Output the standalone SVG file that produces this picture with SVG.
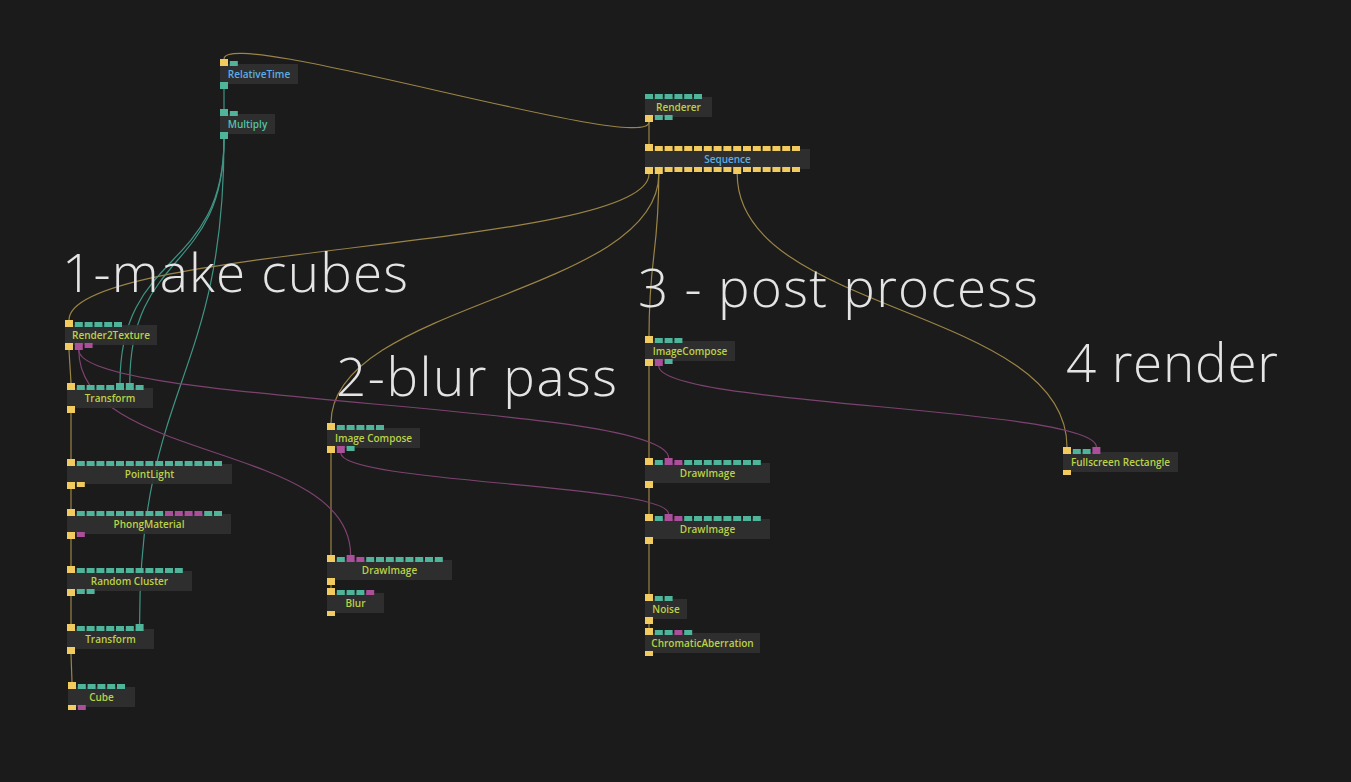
<svg xmlns="http://www.w3.org/2000/svg" width="1351" height="782" viewBox="0 0 1351 782">
<style>
.bg{fill:#1b1b1b}
.nb{fill:#303030;fill-opacity:0.92}
.py{fill:#f2cb60}
.pt{fill:#50b49b}
.pp{fill:#ab4f9a}
.lb{font-family:"Open Sans","Liberation Sans",sans-serif;font-weight:600;font-size:10px;text-anchor:middle}
.lg{fill:#bcd246}
.lbl{fill:#5aaee6}
.ltl{fill:#55c2a8}
.big{font-family:"Open Sans","Liberation Sans",sans-serif;font-weight:300;font-size:53px;fill:#e4e4e4}
.wy{fill:none;stroke:#9a8446;stroke-width:1.2}
.wt{fill:none;stroke:#3f9585;stroke-width:1.2}
.wp{fill:none;stroke:#7d4270;stroke-width:1.2}
</style>
<rect class="bg" x="0" y="0" width="1351" height="782"/>

<g id="connectors">
<path class="wy" d="M649 122 L649 144"/>
<path class="wy" d="M649 122 C649 156 224 25 224 59"/>
<path class="wy" d="M649 174 C649 249 69 245 69 320"/>
<path class="wy" d="M658.8 174 C658.8 294 331 303 331 423"/>
<path class="wy" d="M658.8 174 C658.8 254 649 256 649 336"/>
<path class="wy" d="M737.2 174 C737.2 314 1067 307 1067 447"/>
<path class="wy" d="M69 350 L71 383"/>
<path class="wy" d="M71 413 L71 459"/>
<path class="wy" d="M71 489 L71 509"/>
<path class="wy" d="M71 539 L71 566"/>
<path class="wy" d="M71 596 L71 624"/>
<path class="wy" d="M71 654 L72 682"/>
<path class="wy" d="M331 453 L331 555"/>
<path class="wy" d="M331 585 L331 588"/>
<path class="wy" d="M649 366 L649 458"/>
<path class="wy" d="M649 488 L649 514"/>
<path class="wy" d="M649 544 L649 594"/>
<path class="wy" d="M649 624 L649 628"/>
<path class="wt" d="M224 89 L224 109"/>
<path class="wt" d="M224 139 C224 273 120 249 120 383"/>
<path class="wt" d="M224 139 C224 273 129.8 249 129.8 383"/>
<path class="wt" d="M224 139 C224 379 139.6 384 139.6 624"/>
<path class="wp" d="M78.8 350 C78.8 463 350.6 442 350.6 555"/>
<path class="wp" d="M78.8 350 C78.8 405 668.6 403 668.6 458"/>
<path class="wp" d="M340.8 453 C340.8 483 668.6 484 668.6 514"/>
<path class="wp" d="M658.8 366 C658.8 406 1096.4 407 1096.4 447"/>
</g>

<g id="node-relativetime">
<rect class="nb" x="220" y="64" width="78" height="20"/>
<rect class="py" x="220" y="59" width="8" height="7"/>
<rect class="pt" x="229.8" y="61" width="8" height="5"/>
<rect class="pt" x="220" y="82" width="8" height="7"/>
<text class="lb lbl" x="259" y="78">RelativeTime</text>
</g>

<g id="node-multiply">
<rect class="nb" x="220" y="114" width="55" height="20"/>
<rect class="pt" x="220" y="109" width="8" height="7"/>
<rect class="pt" x="229.8" y="111" width="8" height="5"/>
<rect class="pt" x="220" y="132" width="8" height="7"/>
<text class="lb ltl" x="247.5" y="128">Multiply</text>
</g>

<g id="node-renderer">
<rect class="nb" x="645" y="97" width="67" height="20"/>
<rect class="pt" x="645" y="94" width="8" height="5"/>
<rect class="pt" x="654.8" y="94" width="8" height="5"/>
<rect class="pt" x="664.6" y="94" width="8" height="5"/>
<rect class="pt" x="674.4" y="94" width="8" height="5"/>
<rect class="pt" x="684.2" y="94" width="8" height="5"/>
<rect class="pt" x="694" y="94" width="8" height="5"/>
<rect class="py" x="645" y="115" width="8" height="7"/>
<rect class="pt" x="654.8" y="115" width="8" height="5"/>
<rect class="pt" x="664.6" y="115" width="8" height="5"/>
<text class="lb lg" x="678.5" y="111">Renderer</text>
</g>

<g id="node-sequence">
<rect class="nb" x="645" y="149" width="165" height="20"/>
<rect class="py" x="645" y="144" width="8" height="7"/>
<rect class="py" x="654.8" y="146" width="8" height="5"/>
<rect class="py" x="664.6" y="146" width="8" height="5"/>
<rect class="py" x="674.4" y="146" width="8" height="5"/>
<rect class="py" x="684.2" y="146" width="8" height="5"/>
<rect class="py" x="694" y="146" width="8" height="5"/>
<rect class="py" x="703.8" y="146" width="8" height="5"/>
<rect class="py" x="713.6" y="146" width="8" height="5"/>
<rect class="py" x="723.4" y="146" width="8" height="5"/>
<rect class="py" x="733.2" y="146" width="8" height="5"/>
<rect class="py" x="743" y="146" width="8" height="5"/>
<rect class="py" x="752.8" y="146" width="8" height="5"/>
<rect class="py" x="762.6" y="146" width="8" height="5"/>
<rect class="py" x="772.4" y="146" width="8" height="5"/>
<rect class="py" x="782.2" y="146" width="8" height="5"/>
<rect class="py" x="792" y="146" width="8" height="5"/>
<rect class="py" x="645" y="167" width="8" height="7"/>
<rect class="py" x="654.8" y="167" width="8" height="7"/>
<rect class="py" x="664.6" y="167" width="8" height="5"/>
<rect class="py" x="674.4" y="167" width="8" height="5"/>
<rect class="py" x="684.2" y="167" width="8" height="5"/>
<rect class="py" x="694" y="167" width="8" height="5"/>
<rect class="py" x="703.8" y="167" width="8" height="5"/>
<rect class="py" x="713.6" y="167" width="8" height="5"/>
<rect class="py" x="723.4" y="167" width="8" height="5"/>
<rect class="py" x="733.2" y="167" width="8" height="7"/>
<rect class="py" x="743" y="167" width="8" height="5"/>
<rect class="py" x="752.8" y="167" width="8" height="5"/>
<rect class="py" x="762.6" y="167" width="8" height="5"/>
<rect class="py" x="772.4" y="167" width="8" height="5"/>
<rect class="py" x="782.2" y="167" width="8" height="5"/>
<rect class="py" x="792" y="167" width="8" height="5"/>
<text class="lb lbl" x="727.5" y="163">Sequence</text>
</g>

<g id="node-render2texture">
<rect class="nb" x="65" y="325" width="92" height="20"/>
<rect class="py" x="65" y="320" width="8" height="7"/>
<rect class="pt" x="74.8" y="322" width="8" height="5"/>
<rect class="pt" x="84.6" y="322" width="8" height="5"/>
<rect class="pt" x="94.4" y="322" width="8" height="5"/>
<rect class="pt" x="104.2" y="322" width="8" height="5"/>
<rect class="pt" x="114" y="322" width="8" height="5"/>
<rect class="py" x="65" y="343" width="8" height="7"/>
<rect class="pp" x="74.8" y="343" width="8" height="7"/>
<rect class="pp" x="84.6" y="343" width="8" height="5"/>
<text class="lb lg" x="111" y="339">Render2Texture</text>
</g>

<g id="node-transform1">
<rect class="nb" x="67" y="388" width="86" height="20"/>
<rect class="py" x="67" y="383" width="8" height="7"/>
<rect class="pt" x="76.8" y="385" width="8" height="5"/>
<rect class="pt" x="86.6" y="385" width="8" height="5"/>
<rect class="pt" x="96.4" y="385" width="8" height="5"/>
<rect class="pt" x="106.2" y="385" width="8" height="5"/>
<rect class="pt" x="116" y="383" width="8" height="7"/>
<rect class="pt" x="125.8" y="383" width="8" height="7"/>
<rect class="pt" x="135.6" y="385" width="8" height="5"/>
<rect class="py" x="67" y="406" width="8" height="7"/>
<text class="lb lg" x="110" y="402">Transform</text>
</g>

<g id="node-pointlight">
<rect class="nb" x="67" y="464" width="165" height="20"/>
<rect class="py" x="67" y="459" width="8" height="7"/>
<rect class="pt" x="76.8" y="461" width="8" height="5"/>
<rect class="pt" x="86.6" y="461" width="8" height="5"/>
<rect class="pt" x="96.4" y="461" width="8" height="5"/>
<rect class="pt" x="106.2" y="461" width="8" height="5"/>
<rect class="pt" x="116" y="461" width="8" height="5"/>
<rect class="pt" x="125.8" y="461" width="8" height="5"/>
<rect class="pt" x="135.6" y="461" width="8" height="5"/>
<rect class="pt" x="145.4" y="461" width="8" height="5"/>
<rect class="pt" x="155.2" y="461" width="8" height="5"/>
<rect class="pt" x="165" y="461" width="8" height="5"/>
<rect class="pt" x="174.8" y="461" width="8" height="5"/>
<rect class="pt" x="184.6" y="461" width="8" height="5"/>
<rect class="pt" x="194.4" y="461" width="8" height="5"/>
<rect class="pt" x="204.2" y="461" width="8" height="5"/>
<rect class="pt" x="214" y="461" width="8" height="5"/>
<rect class="py" x="67" y="482" width="8" height="7"/>
<rect class="py" x="76.8" y="482" width="8" height="5"/>
<text class="lb lg" x="149.5" y="478">PointLight</text>
</g>

<g id="node-phongmaterial">
<rect class="nb" x="67" y="514" width="164" height="20"/>
<rect class="py" x="67" y="509" width="8" height="7"/>
<rect class="pt" x="76.8" y="511" width="8" height="5"/>
<rect class="pt" x="86.6" y="511" width="8" height="5"/>
<rect class="pt" x="96.4" y="511" width="8" height="5"/>
<rect class="pt" x="106.2" y="511" width="8" height="5"/>
<rect class="pt" x="116" y="511" width="8" height="5"/>
<rect class="pt" x="125.8" y="511" width="8" height="5"/>
<rect class="pt" x="135.6" y="511" width="8" height="5"/>
<rect class="pt" x="145.4" y="511" width="8" height="5"/>
<rect class="pt" x="155.2" y="511" width="8" height="5"/>
<rect class="pp" x="165" y="511" width="8" height="5"/>
<rect class="pp" x="174.8" y="511" width="8" height="5"/>
<rect class="pp" x="184.6" y="511" width="8" height="5"/>
<rect class="pp" x="194.4" y="511" width="8" height="5"/>
<rect class="pt" x="204.2" y="511" width="8" height="5"/>
<rect class="pt" x="214" y="511" width="8" height="5"/>
<rect class="py" x="67" y="532" width="8" height="7"/>
<rect class="pp" x="76.8" y="532" width="8" height="5"/>
<text class="lb lg" x="149" y="528">PhongMaterial</text>
</g>

<g id="node-randomcluster">
<rect class="nb" x="67" y="571" width="125" height="20"/>
<rect class="py" x="67" y="566" width="8" height="7"/>
<rect class="pt" x="76.8" y="568" width="8" height="5"/>
<rect class="pt" x="86.6" y="568" width="8" height="5"/>
<rect class="pt" x="96.4" y="568" width="8" height="5"/>
<rect class="pt" x="106.2" y="568" width="8" height="5"/>
<rect class="pt" x="116" y="568" width="8" height="5"/>
<rect class="pt" x="125.8" y="568" width="8" height="5"/>
<rect class="pt" x="135.6" y="568" width="8" height="5"/>
<rect class="pt" x="145.4" y="568" width="8" height="5"/>
<rect class="pt" x="155.2" y="568" width="8" height="5"/>
<rect class="pt" x="165" y="568" width="8" height="5"/>
<rect class="pt" x="174.8" y="568" width="8" height="5"/>
<rect class="py" x="67" y="589" width="8" height="7"/>
<rect class="pt" x="76.8" y="589" width="8" height="5"/>
<rect class="pt" x="86.6" y="589" width="8" height="5"/>
<text class="lb lg" x="129.5" y="585">Random Cluster</text>
</g>

<g id="node-transform2">
<rect class="nb" x="67" y="629" width="87" height="20"/>
<rect class="py" x="67" y="624" width="8" height="7"/>
<rect class="pt" x="76.8" y="626" width="8" height="5"/>
<rect class="pt" x="86.6" y="626" width="8" height="5"/>
<rect class="pt" x="96.4" y="626" width="8" height="5"/>
<rect class="pt" x="106.2" y="626" width="8" height="5"/>
<rect class="pt" x="116" y="626" width="8" height="5"/>
<rect class="pt" x="125.8" y="626" width="8" height="5"/>
<rect class="pt" x="135.6" y="624" width="8" height="7"/>
<rect class="py" x="67" y="647" width="8" height="7"/>
<text class="lb lg" x="110.5" y="643">Transform</text>
</g>

<g id="node-cube">
<rect class="nb" x="68" y="687" width="67" height="20"/>
<rect class="py" x="68" y="682" width="8" height="7"/>
<rect class="pt" x="77.8" y="684" width="8" height="5"/>
<rect class="pt" x="87.6" y="684" width="8" height="5"/>
<rect class="pt" x="97.4" y="684" width="8" height="5"/>
<rect class="pt" x="107.2" y="684" width="8" height="5"/>
<rect class="pt" x="117" y="684" width="8" height="5"/>
<rect class="py" x="68" y="705" width="8" height="5"/>
<rect class="pp" x="77.8" y="705" width="8" height="5"/>
<text class="lb lg" x="101.5" y="701">Cube</text>
</g>

<g id="node-imagecompose-blur">
<rect class="nb" x="327" y="428" width="93" height="20"/>
<rect class="py" x="327" y="423" width="8" height="7"/>
<rect class="pt" x="336.8" y="425" width="8" height="5"/>
<rect class="pt" x="346.6" y="425" width="8" height="5"/>
<rect class="pt" x="356.4" y="425" width="8" height="5"/>
<rect class="pt" x="366.2" y="425" width="8" height="5"/>
<rect class="pt" x="376" y="425" width="8" height="5"/>
<rect class="py" x="327" y="446" width="8" height="7"/>
<rect class="pp" x="336.8" y="446" width="8" height="7"/>
<rect class="pt" x="346.6" y="446" width="8" height="5"/>
<text class="lb lg" x="373.5" y="442">Image Compose</text>
</g>

<g id="node-drawimage-blur">
<rect class="nb" x="327" y="560" width="125" height="20"/>
<rect class="py" x="327" y="555" width="8" height="7"/>
<rect class="pt" x="336.8" y="557" width="8" height="5"/>
<rect class="pp" x="346.6" y="555" width="8" height="7"/>
<rect class="pp" x="356.4" y="557" width="8" height="5"/>
<rect class="pt" x="366.2" y="557" width="8" height="5"/>
<rect class="pt" x="376" y="557" width="8" height="5"/>
<rect class="pt" x="385.8" y="557" width="8" height="5"/>
<rect class="pt" x="395.6" y="557" width="8" height="5"/>
<rect class="pt" x="405.4" y="557" width="8" height="5"/>
<rect class="pt" x="415.2" y="557" width="8" height="5"/>
<rect class="pt" x="425" y="557" width="8" height="5"/>
<rect class="pt" x="434.8" y="557" width="8" height="5"/>
<rect class="py" x="327" y="578" width="8" height="7"/>
<text class="lb lg" x="389.5" y="574">DrawImage</text>
</g>

<g id="node-blur">
<rect class="nb" x="327" y="593" width="57" height="20"/>
<rect class="py" x="327" y="588" width="8" height="7"/>
<rect class="pt" x="336.8" y="590" width="8" height="5"/>
<rect class="pt" x="346.6" y="590" width="8" height="5"/>
<rect class="pt" x="356.4" y="590" width="8" height="5"/>
<rect class="pp" x="366.2" y="590" width="8" height="5"/>
<rect class="py" x="327" y="611" width="8" height="5"/>
<text class="lb lg" x="355.5" y="607">Blur</text>
</g>

<g id="node-imagecompose-post">
<rect class="nb" x="645" y="341" width="90" height="20"/>
<rect class="py" x="645" y="336" width="8" height="7"/>
<rect class="pt" x="654.8" y="338" width="8" height="5"/>
<rect class="pt" x="664.6" y="338" width="8" height="5"/>
<rect class="pt" x="674.4" y="338" width="8" height="5"/>
<rect class="py" x="645" y="359" width="8" height="7"/>
<rect class="pp" x="654.8" y="359" width="8" height="7"/>
<rect class="pt" x="664.6" y="359" width="8" height="5"/>
<text class="lb lg" x="690" y="355">ImageCompose</text>
</g>

<g id="node-drawimage-1">
<rect class="nb" x="645" y="463" width="125" height="20"/>
<rect class="py" x="645" y="458" width="8" height="7"/>
<rect class="pt" x="654.8" y="460" width="8" height="5"/>
<rect class="pp" x="664.6" y="458" width="8" height="7"/>
<rect class="pp" x="674.4" y="460" width="8" height="5"/>
<rect class="pt" x="684.2" y="460" width="8" height="5"/>
<rect class="pt" x="694" y="460" width="8" height="5"/>
<rect class="pt" x="703.8" y="460" width="8" height="5"/>
<rect class="pt" x="713.6" y="460" width="8" height="5"/>
<rect class="pt" x="723.4" y="460" width="8" height="5"/>
<rect class="pt" x="733.2" y="460" width="8" height="5"/>
<rect class="pt" x="743" y="460" width="8" height="5"/>
<rect class="pt" x="752.8" y="460" width="8" height="5"/>
<rect class="py" x="645" y="481" width="8" height="7"/>
<text class="lb lg" x="707.5" y="477">DrawImage</text>
</g>

<g id="node-drawimage-2">
<rect class="nb" x="645" y="519" width="125" height="20"/>
<rect class="py" x="645" y="514" width="8" height="7"/>
<rect class="pt" x="654.8" y="516" width="8" height="5"/>
<rect class="pp" x="664.6" y="514" width="8" height="7"/>
<rect class="pp" x="674.4" y="516" width="8" height="5"/>
<rect class="pt" x="684.2" y="516" width="8" height="5"/>
<rect class="pt" x="694" y="516" width="8" height="5"/>
<rect class="pt" x="703.8" y="516" width="8" height="5"/>
<rect class="pt" x="713.6" y="516" width="8" height="5"/>
<rect class="pt" x="723.4" y="516" width="8" height="5"/>
<rect class="pt" x="733.2" y="516" width="8" height="5"/>
<rect class="pt" x="743" y="516" width="8" height="5"/>
<rect class="pt" x="752.8" y="516" width="8" height="5"/>
<rect class="py" x="645" y="537" width="8" height="7"/>
<text class="lb lg" x="707.5" y="533">DrawImage</text>
</g>

<g id="node-noise">
<rect class="nb" x="645" y="599" width="42" height="20"/>
<rect class="py" x="645" y="594" width="8" height="7"/>
<rect class="pt" x="654.8" y="596" width="8" height="5"/>
<rect class="pt" x="664.6" y="596" width="8" height="5"/>
<rect class="py" x="645" y="617" width="8" height="7"/>
<text class="lb lg" x="666" y="613">Noise</text>
</g>

<g id="node-chromaticaberration">
<rect class="nb" x="645" y="633" width="115" height="20"/>
<rect class="py" x="645" y="628" width="8" height="7"/>
<rect class="pt" x="654.8" y="630" width="8" height="5"/>
<rect class="pt" x="664.6" y="630" width="8" height="5"/>
<rect class="pp" x="674.4" y="630" width="8" height="5"/>
<rect class="pt" x="684.2" y="630" width="8" height="5"/>
<rect class="py" x="645" y="651" width="8" height="5"/>
<text class="lb lg" x="702.5" y="647">ChromaticAberration</text>
</g>

<g id="node-fullscreenrectangle">
<rect class="nb" x="1063" y="452" width="115" height="20"/>
<rect class="py" x="1063" y="447" width="8" height="7"/>
<rect class="pt" x="1072.8" y="449" width="8" height="5"/>
<rect class="pt" x="1082.6" y="449" width="8" height="5"/>
<rect class="pp" x="1092.4" y="447" width="8" height="7"/>
<rect class="py" x="1063" y="470" width="8" height="5"/>
<text class="lb lg" x="1120.5" y="466">Fullscreen Rectangle</text>
</g>

<g id="comments">
<text class="big" x="62" y="292" textLength="346">1-make cubes</text>
<text class="big" x="336" y="396" textLength="281">2-blur pass</text>
<text class="big" x="638" y="307" textLength="400">3 - post process</text>
<text class="big" x="1066" y="382" textLength="212">4 render</text>
</g>
</svg>
